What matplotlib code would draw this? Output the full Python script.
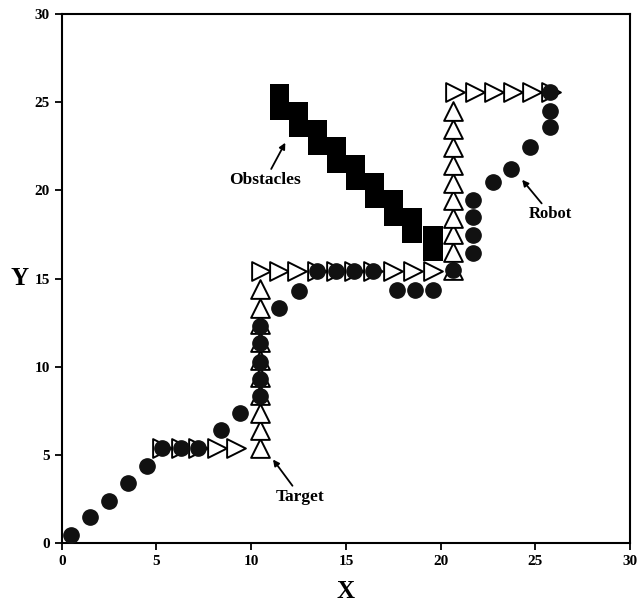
import matplotlib
matplotlib.use("Agg")
import matplotlib.pyplot as plt

# obstacle columns: x centre, lower and upper y of the filled block
obstacle_x = [11.5, 12.5, 13.5, 14.5, 15.5, 16.5, 17.5, 18.5, 19.6]
obstacle_lo = [24, 23, 22, 21, 20, 19, 18, 17, 16]
obstacle_hi = [26, 25, 24, 23, 22, 21, 20, 19, 18]

# target positions, split by the direction the marker points
target_right_x = [5.3, 6.3, 7.2, 8.2, 9.2,
                  10.5, 11.45, 12.4, 13.45, 14.45, 15.4, 16.45, 17.5, 18.55, 19.6,
                  20.75, 21.8, 22.8, 23.8, 24.8, 25.8]
target_right_y = [5.4] * 5 + [15.45] * 10 + [25.6] * 6
target_up_x = [10.45] * 10 + [20.65] * 10
target_up_y = [5.4, 6.4, 7.4, 8.4, 9.4, 10.4, 11.4, 12.4, 13.35, 14.4,
               15.5, 16.5, 17.5, 18.45, 19.45, 20.4, 21.45, 22.45, 23.45, 24.5]

# robot positions
robot_x = [0.5, 1.5, 2.5, 3.5, 4.5, 5.3, 6.3, 7.2, 8.4, 9.4,
           10.45, 10.45, 10.45, 10.45, 10.45, 11.45, 12.5,
           13.45, 14.45, 15.4, 16.45, 17.7, 18.65, 19.6, 20.65,
           21.7, 21.7, 21.7, 21.7, 22.75, 23.7, 24.73, 25.78, 25.78, 25.78]
robot_y = [0.47, 1.5, 2.41, 3.4, 4.38, 5.4, 5.4, 5.4, 6.42, 7.4,
           8.35, 9.3, 10.3, 11.35, 12.3, 13.32, 14.3,
           15.45, 15.45, 15.45, 15.45, 14.36, 14.36, 14.36, 15.5,
           16.45, 17.48, 18.5, 19.46, 20.45, 21.2, 22.45, 23.6, 24.5, 25.6]

plt.rcParams['font.family'] = ["Liberation Serif", "DejaVu Serif"]

fig = plt.figure(figsize=(6.43, 6.03), dpi=100)
ax = fig.add_axes([0.096, 0.099, 0.884, 0.878])

# obstacles as filled blocks
heights = [hi - lo for lo, hi in zip(obstacle_lo, obstacle_hi)]
ax.bar(obstacle_x, heights, width=1.03, bottom=obstacle_lo, color="black", zorder=2)

# targets (open triangles)
ax.scatter(target_right_x, target_right_y, marker=">", s=13.5**2, facecolors="white",
           edgecolors="black", linewidths=1.4, zorder=3)
ax.scatter(target_up_x, target_up_y, marker="^", s=13.5**2, facecolors="white",
           edgecolors="black", linewidths=1.4, zorder=3)

# robot (filled circles)
ax.scatter(robot_x, robot_y, marker="o", s=11**2, color="#111111", zorder=4)

# annotations
arrow = dict(arrowstyle="-|>", color="black", lw=1.3, mutation_scale=9, shrinkA=0, shrinkB=0)
ax.annotate("Obstacles", xy=(11.8, 22.7), xytext=(10.75, 20.6), ha="center", va="center",
            fontsize=12.5, fontweight="bold", arrowprops=arrow)
ax.annotate("Robot", xy=(24.3, 20.6), xytext=(25.8, 18.65), ha="center", va="center",
            fontsize=12, fontweight="bold", arrowprops=arrow)
ax.annotate("Target", xy=(11.15, 4.75), xytext=(12.6, 2.65), ha="center", va="center",
            fontsize=12.5, fontweight="bold", arrowprops=arrow)

ax.set_xlim(0, 30)
ax.set_ylim(0, 30)
ax.set_xticks(range(0, 31, 5))
ax.set_yticks(range(0, 31, 5))
ax.tick_params(direction="out", length=5, width=1.3, labelsize=11)
for lab in ax.get_xticklabels() + ax.get_yticklabels():
    lab.set_fontweight("bold")
for sp in ax.spines.values():
    sp.set_linewidth(1.5)

ax.set_xlabel("X", fontsize=18, fontweight="bold")
ax.xaxis.set_label_coords(0.5, -0.07)
ax.set_ylabel("Y", fontsize=18, fontweight="bold", rotation=0, va="center", ha="center")
ax.yaxis.set_label_coords(-0.074, 0.5)

fig.savefig("out.png", dpi=100)
